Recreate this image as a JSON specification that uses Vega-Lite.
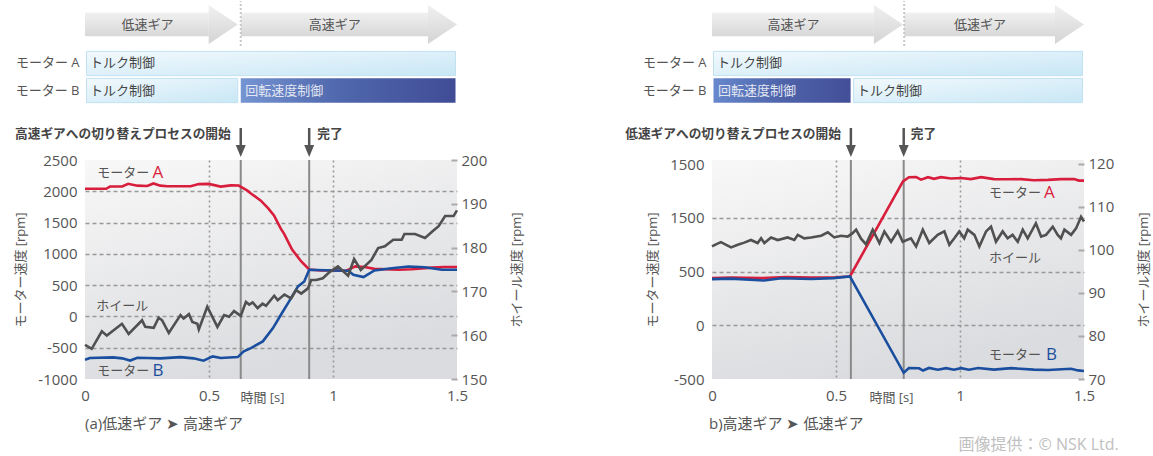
{
"$schema": "https://vega.github.io/schema/vega-lite/v6.json",
"padding": {"left": 14, "top": 0, "right": 0, "bottom": 3},
"background": "white",
"config": {"font": "Open Sans, Noto Sans CJK JP, sans-serif", "view": {"stroke": null}, "axis": {"labelOverlap": false}, "title": {"font": "Open Sans, Noto Sans CJK JP, sans-serif"}},
"title": {"text": "画像提供：© NSK Ltd.", "orient": "bottom", "anchor": "end", "fontSize": 16, "fontWeight": "normal", "color": "#c0c0c0", "offset": 5, "dx": -32},
"datasets": {
"gears": [
{"panel": "a", "gear": "低速ギア", "start": 0, "end": 0.616},
{"panel": "a", "gear": "高速ギア", "start": 0.628, "end": 1.5},
{"panel": "b", "gear": "高速ギア", "start": 0, "end": 0.77},
{"panel": "b", "gear": "低速ギア", "start": 0.775, "end": 1.5}
],
"control": [
{"panel": "a", "motor": "モーター A", "mode": "トルク制御", "start": 0, "end": 1.5},
{"panel": "a", "motor": "モーター B", "mode": "トルク制御", "start": 0, "end": 0.622},
{"panel": "a", "motor": "モーター B", "mode": "回転速度制御", "start": 0.622, "end": 1.5},
{"panel": "b", "motor": "モーター A", "mode": "トルク制御", "start": 0, "end": 1.5},
{"panel": "b", "motor": "モーター B", "mode": "回転速度制御", "start": 0, "end": 0.565},
{"panel": "b", "motor": "モーター B", "mode": "トルク制御", "start": 0.565, "end": 1.5}
],
"events": [
{"panel": "a", "t": 0.628, "label": "高速ギアへの切り替えプロセスの開始", "side": "left"},
{"panel": "a", "t": 0.904, "label": "完了", "side": "right"},
{"panel": "b", "t": 0.56, "label": "低速ギアへの切り替えプロセスの開始", "side": "left"},
{"panel": "b", "t": 0.773, "label": "完了", "side": "right"}
],
"labels": [
{"panel": "a", "kind": "name", "t": 0.049, "rpm": 2297, "text": "モーター", "series": "note"},
{"panel": "a", "kind": "letter", "t": 0.272, "rpm": 2297, "text": "A", "series": "A"},
{"panel": "a", "kind": "name", "t": 0.045, "rpm": 167, "text": "ホイール", "series": "note"},
{"panel": "a", "kind": "name", "t": 0.049, "rpm": -872, "text": "モーター", "series": "note"},
{"panel": "a", "kind": "letter", "t": 0.272, "rpm": -872, "text": "B", "series": "B"},
{"panel": "b", "kind": "name", "t": 1.117, "rpm": 1235, "text": "モーター", "series": "note"},
{"panel": "b", "kind": "letter", "t": 1.339, "rpm": 1235, "text": "A", "series": "A"},
{"panel": "b", "kind": "name", "t": 1.117, "rpm": 630, "text": "ホイール", "series": "note"},
{"panel": "b", "kind": "name", "t": 1.117, "rpm": -276, "text": "モーター", "series": "note"},
{"panel": "b", "kind": "letter", "t": 1.347, "rpm": -276, "text": "B", "series": "B"}
],
"a_motor": [
{"series": "A", "t": 0, "rpm": 2040}, {"series": "A", "t": 0.085, "rpm": 2040}, {"series": "A", "t": 0.101, "rpm": 2076}, {"series": "A", "t": 0.15, "rpm": 2076}, {"series": "A", "t": 0.174, "rpm": 2120}, {"series": "A", "t": 0.211, "rpm": 2090}, {"series": "A", "t": 0.251, "rpm": 2085}, {"series": "A", "t": 0.276, "rpm": 2125}, {"series": "A", "t": 0.304, "rpm": 2090}, {"series": "A", "t": 0.332, "rpm": 2080}, {"series": "A", "t": 0.426, "rpm": 2080}, {"series": "A", "t": 0.459, "rpm": 2115}, {"series": "A", "t": 0.499, "rpm": 2118}, {"series": "A", "t": 0.547, "rpm": 2075}, {"series": "A", "t": 0.588, "rpm": 2095}, {"series": "A", "t": 0.62, "rpm": 2092}, {"series": "A", "t": 0.655, "rpm": 2010}, {"series": "A", "t": 0.669, "rpm": 1965}, {"series": "A", "t": 0.709, "rpm": 1850}, {"series": "A", "t": 0.738, "rpm": 1730}, {"series": "A", "t": 0.762, "rpm": 1615}, {"series": "A", "t": 0.79, "rpm": 1400}, {"series": "A", "t": 0.803, "rpm": 1320}, {"series": "A", "t": 0.835, "rpm": 1068}, {"series": "A", "t": 0.872, "rpm": 879}, {"series": "A", "t": 0.904, "rpm": 750}, {"series": "A", "t": 0.95, "rpm": 735}, {"series": "A", "t": 1.005, "rpm": 735}, {"series": "A", "t": 1.054, "rpm": 730}, {"series": "A", "t": 1.09, "rpm": 800}, {"series": "A", "t": 1.128, "rpm": 790}, {"series": "A", "t": 1.167, "rpm": 760}, {"series": "A", "t": 1.265, "rpm": 745}, {"series": "A", "t": 1.317, "rpm": 755}, {"series": "A", "t": 1.398, "rpm": 780}, {"series": "A", "t": 1.45, "rpm": 790}, {"series": "A", "t": 1.5, "rpm": 790},
{"series": "B", "t": 0, "rpm": -692}, {"series": "B", "t": 0.02, "rpm": -665}, {"series": "B", "t": 0.113, "rpm": -655}, {"series": "B", "t": 0.15, "rpm": -670}, {"series": "B", "t": 0.182, "rpm": -705}, {"series": "B", "t": 0.211, "rpm": -660}, {"series": "B", "t": 0.251, "rpm": -665}, {"series": "B", "t": 0.304, "rpm": -670}, {"series": "B", "t": 0.385, "rpm": -650}, {"series": "B", "t": 0.438, "rpm": -670}, {"series": "B", "t": 0.478, "rpm": -708}, {"series": "B", "t": 0.515, "rpm": -639}, {"series": "B", "t": 0.547, "rpm": -665}, {"series": "B", "t": 0.616, "rpm": -650}, {"series": "B", "t": 0.64, "rpm": -559}, {"series": "B", "t": 0.669, "rpm": -506}, {"series": "B", "t": 0.717, "rpm": -399}, {"series": "B", "t": 0.758, "rpm": -186}, {"series": "B", "t": 0.79, "rpm": 27}, {"series": "B", "t": 0.823, "rpm": 240}, {"series": "B", "t": 0.859, "rpm": 479}, {"series": "B", "t": 0.884, "rpm": 559}, {"series": "B", "t": 0.904, "rpm": 746}, {"series": "B", "t": 1.005, "rpm": 735}, {"series": "B", "t": 1.062, "rpm": 729}, {"series": "B", "t": 1.082, "rpm": 666}, {"series": "B", "t": 1.123, "rpm": 628}, {"series": "B", "t": 1.167, "rpm": 735}, {"series": "B", "t": 1.236, "rpm": 770}, {"series": "B", "t": 1.305, "rpm": 799}, {"series": "B", "t": 1.37, "rpm": 785}, {"series": "B", "t": 1.439, "rpm": 746}, {"series": "B", "t": 1.5, "rpm": 746}
],
"a_wheel": [
{"t": 0, "rpm": 157.8}, {"t": 0.027, "rpm": 156.9}, {"t": 0.068, "rpm": 160.9}, {"t": 0.088, "rpm": 159.9}, {"t": 0.149, "rpm": 162.6}, {"t": 0.176, "rpm": 160.3}, {"t": 0.23, "rpm": 163.4}, {"t": 0.243, "rpm": 161.9}, {"t": 0.277, "rpm": 161.7}, {"t": 0.297, "rpm": 164.0}, {"t": 0.311, "rpm": 163.4}, {"t": 0.338, "rpm": 160.5}, {"t": 0.385, "rpm": 164.6}, {"t": 0.398, "rpm": 163.8}, {"t": 0.419, "rpm": 164.8}, {"t": 0.433, "rpm": 163.0}, {"t": 0.453, "rpm": 162.6}, {"t": 0.459, "rpm": 161.3}, {"t": 0.493, "rpm": 166.5}, {"t": 0.534, "rpm": 161.9}, {"t": 0.561, "rpm": 164.6}, {"t": 0.581, "rpm": 164.2}, {"t": 0.601, "rpm": 165.5}, {"t": 0.628, "rpm": 164.4}, {"t": 0.649, "rpm": 167.6}, {"t": 0.662, "rpm": 167.0}, {"t": 0.676, "rpm": 167.5}, {"t": 0.696, "rpm": 166.2}, {"t": 0.716, "rpm": 167.2}, {"t": 0.73, "rpm": 166.7}, {"t": 0.763, "rpm": 169.0}, {"t": 0.777, "rpm": 168.0}, {"t": 0.804, "rpm": 169.3}, {"t": 0.831, "rpm": 168.4}, {"t": 0.851, "rpm": 170.3}, {"t": 0.872, "rpm": 169.5}, {"t": 0.899, "rpm": 170.7}, {"t": 0.912, "rpm": 172.6}, {"t": 0.932, "rpm": 172.6}, {"t": 0.959, "rpm": 173.0}, {"t": 0.986, "rpm": 174.4}, {"t": 1.02, "rpm": 175.7}, {"t": 1.061, "rpm": 173.6}, {"t": 1.085, "rpm": 177.4}, {"t": 1.112, "rpm": 174.9}, {"t": 1.155, "rpm": 177.2}, {"t": 1.182, "rpm": 179.9}, {"t": 1.209, "rpm": 180.3}, {"t": 1.243, "rpm": 181.8}, {"t": 1.277, "rpm": 181.8}, {"t": 1.288, "rpm": 183.1}, {"t": 1.331, "rpm": 183.1}, {"t": 1.371, "rpm": 182.2}, {"t": 1.405, "rpm": 183.9}, {"t": 1.426, "rpm": 184.9}, {"t": 1.452, "rpm": 187.2}, {"t": 1.486, "rpm": 187.2}, {"t": 1.5, "rpm": 188.5}
],
"b_motor": [
{"series": "A", "t": 0, "rpm": 440}, {"series": "A", "t": 0.08, "rpm": 446}, {"series": "A", "t": 0.2, "rpm": 440}, {"series": "A", "t": 0.3, "rpm": 450}, {"series": "A", "t": 0.4, "rpm": 445}, {"series": "A", "t": 0.5, "rpm": 448}, {"series": "A", "t": 0.556, "rpm": 455}, {"series": "A", "t": 0.77, "rpm": 1341}, {"series": "A", "t": 0.794, "rpm": 1379}, {"series": "A", "t": 0.823, "rpm": 1380}, {"series": "A", "t": 0.843, "rpm": 1357}, {"series": "A", "t": 0.871, "rpm": 1380}, {"series": "A", "t": 0.895, "rpm": 1365}, {"series": "A", "t": 0.923, "rpm": 1380}, {"series": "A", "t": 0.964, "rpm": 1368}, {"series": "A", "t": 1.004, "rpm": 1372}, {"series": "A", "t": 1.044, "rpm": 1362}, {"series": "A", "t": 1.085, "rpm": 1380}, {"series": "A", "t": 1.137, "rpm": 1362}, {"series": "A", "t": 1.194, "rpm": 1360}, {"series": "A", "t": 1.246, "rpm": 1362}, {"series": "A", "t": 1.298, "rpm": 1352}, {"series": "A", "t": 1.355, "rpm": 1355}, {"series": "A", "t": 1.407, "rpm": 1362}, {"series": "A", "t": 1.46, "rpm": 1362}, {"series": "A", "t": 1.48, "rpm": 1348}, {"series": "A", "t": 1.5, "rpm": 1348},
{"series": "B", "t": 0, "rpm": 430}, {"series": "B", "t": 0.076, "rpm": 435}, {"series": "B", "t": 0.21, "rpm": 418}, {"series": "B", "t": 0.28, "rpm": 438}, {"series": "B", "t": 0.4, "rpm": 432}, {"series": "B", "t": 0.49, "rpm": 440}, {"series": "B", "t": 0.556, "rpm": 455}, {"series": "B", "t": 0.773, "rpm": -442}, {"series": "B", "t": 0.794, "rpm": -397}, {"series": "B", "t": 0.835, "rpm": -400}, {"series": "B", "t": 0.851, "rpm": -421}, {"series": "B", "t": 0.875, "rpm": -397}, {"series": "B", "t": 0.911, "rpm": -413}, {"series": "B", "t": 0.944, "rpm": -399}, {"series": "B", "t": 0.976, "rpm": -413}, {"series": "B", "t": 1.004, "rpm": -399}, {"series": "B", "t": 1.036, "rpm": -413}, {"series": "B", "t": 1.073, "rpm": -397}, {"series": "B", "t": 1.137, "rpm": -413}, {"series": "B", "t": 1.206, "rpm": -399}, {"series": "B", "t": 1.298, "rpm": -413}, {"series": "B", "t": 1.355, "rpm": -416}, {"series": "B", "t": 1.448, "rpm": -405}, {"series": "B", "t": 1.476, "rpm": -420}, {"series": "B", "t": 1.5, "rpm": -425}
],
"b_wheel": [
{"t": 0, "rpm": 100.8}, {"t": 0.016, "rpm": 101.3}, {"t": 0.036, "rpm": 101.8}, {"t": 0.063, "rpm": 101.0}, {"t": 0.077, "rpm": 100.6}, {"t": 0.104, "rpm": 101.2}, {"t": 0.13, "rpm": 101.7}, {"t": 0.157, "rpm": 102.3}, {"t": 0.184, "rpm": 101.6}, {"t": 0.198, "rpm": 102.7}, {"t": 0.211, "rpm": 101.6}, {"t": 0.238, "rpm": 102.9}, {"t": 0.265, "rpm": 102.3}, {"t": 0.305, "rpm": 102.9}, {"t": 0.332, "rpm": 102.3}, {"t": 0.346, "rpm": 103.5}, {"t": 0.372, "rpm": 102.7}, {"t": 0.399, "rpm": 102.9}, {"t": 0.44, "rpm": 103.3}, {"t": 0.467, "rpm": 104.1}, {"t": 0.493, "rpm": 102.9}, {"t": 0.52, "rpm": 103.3}, {"t": 0.547, "rpm": 103.1}, {"t": 0.567, "rpm": 103.9}, {"t": 0.581, "rpm": 104.7}, {"t": 0.601, "rpm": 102.6}, {"t": 0.621, "rpm": 101.3}, {"t": 0.648, "rpm": 104.7}, {"t": 0.675, "rpm": 101.6}, {"t": 0.695, "rpm": 104.3}, {"t": 0.722, "rpm": 101.9}, {"t": 0.749, "rpm": 104.4}, {"t": 0.769, "rpm": 101.9}, {"t": 0.802, "rpm": 102.7}, {"t": 0.823, "rpm": 100.8}, {"t": 0.85, "rpm": 104.7}, {"t": 0.876, "rpm": 101.6}, {"t": 0.91, "rpm": 103.5}, {"t": 0.937, "rpm": 104.3}, {"t": 0.957, "rpm": 101.2}, {"t": 0.977, "rpm": 102.7}, {"t": 0.997, "rpm": 104.3}, {"t": 1.017, "rpm": 102.7}, {"t": 1.031, "rpm": 104.7}, {"t": 1.058, "rpm": 103.5}, {"t": 1.078, "rpm": 100.8}, {"t": 1.105, "rpm": 104.3}, {"t": 1.125, "rpm": 105.4}, {"t": 1.145, "rpm": 101.9}, {"t": 1.172, "rpm": 104.3}, {"t": 1.192, "rpm": 102.7}, {"t": 1.212, "rpm": 103.5}, {"t": 1.233, "rpm": 101.9}, {"t": 1.253, "rpm": 104.7}, {"t": 1.273, "rpm": 102.7}, {"t": 1.306, "rpm": 106.2}, {"t": 1.327, "rpm": 103.1}, {"t": 1.347, "rpm": 103.5}, {"t": 1.374, "rpm": 105.4}, {"t": 1.394, "rpm": 103.5}, {"t": 1.407, "rpm": 102.7}, {"t": 1.421, "rpm": 104.7}, {"t": 1.448, "rpm": 103.5}, {"t": 1.468, "rpm": 105.0}, {"t": 1.488, "rpm": 107.7}, {"t": 1.5, "rpm": 106.6}
]
},
"spacing": 627,
"bounds": "flush",
"resolve": {"scale": {"x": "independent", "y": "independent", "color": "independent"}},
"hconcat": [
{
"spacing": 0,
"bounds": "flush",
"resolve": {"scale": {"x": "independent", "y": "independent", "color": "independent"}},
"vconcat": [
{
"width": 372, "height": 47,
"data": {"name": "gears"},
"transform": [{"filter": "datum.panel == 'a'"}, {"calculate": "(datum.start + datum.end) / 2", "as": "mid"}],
"layer": [
{"mark": {"type": "rect", "x2Offset": -29, "fill": {"gradient": "linear", "x1": 0, "y1": 0, "x2": 0, "y2": 1, "stops": [{"offset": 0, "color": "#f0f0f0"}, {"offset": 1, "color": "#d8d8d8"}]}},
 "encoding": {"x": {"field": "start", "type": "quantitative", "scale": {"domain": [0, 1.5]}, "axis": null}, "x2": {"field": "end"}, "y": {"datum": 0.25, "type": "quantitative", "scale": {"domain": [0, 1]}, "axis": null}, "y2": {"datum": 0.75}}},
{"mark": {"type": "point", "shape": "M-1.49,-1L0,0L-1.49,1Z", "size": 1521, "filled": true, "opacity": 1, "strokeWidth": 0, "fill": {"gradient": "linear", "x1": 0, "y1": 0, "x2": 0, "y2": 1, "stops": [{"offset": 0, "color": "#f0f0f0"}, {"offset": 1, "color": "#d4d4d4"}]}},
 "encoding": {"x": {"field": "end", "type": "quantitative", "scale": {"domain": [0, 1.5]}}, "y": {"datum": 0.5, "type": "quantitative", "scale": {"domain": [0, 1]}}}},
{"mark": {"type": "text", "dx": -14, "fontSize": 13, "color": "#555"},
 "encoding": {"x": {"field": "mid", "type": "quantitative", "scale": {"domain": [0, 1.5]}}, "y": {"datum": 0.5, "type": "quantitative", "scale": {"domain": [0, 1]}}, "text": {"field": "gear"}}},
{"transform": [{"filter": "datum.start > 0"}], "mark": {"type": "rule", "color": "#c8c8c8", "strokeWidth": 2, "strokeDash": [2, 2]},
 "encoding": {"x": {"field": "start", "type": "quantitative", "scale": {"domain": [0, 1.5]}}, "y": {"datum": 0.04, "type": "quantitative", "scale": {"domain": [0, 1]}}, "y2": {"datum": 1}}}
]
},
{
"width": 372, "height": 58,
"data": {"name": "control"},
"transform": [{"filter": "datum.panel == 'a'"}],
"encoding": {
"x": {"field": "start", "type": "quantitative", "scale": {"domain": [0, 1.5]}, "axis": null},
"y": {"field": "motor", "type": "nominal", "scale": {"domain": ["モーター A", "モーター B"], "paddingInner": 0.1, "paddingOuter": 0.124}, "axis": {"title": null, "domain": false, "ticks": false, "labelPadding": 6, "labelFontSize": 13, "labelColor": "#555", "labelFontWeight": "normal"}}
},
"layer": [
{"transform": [{"filter": "datum.mode == 'トルク制御'"}], "mark": {"type": "rect", "xOffset": 1.5, "x2Offset": -1.5, "stroke": "#c2e1f0", "strokeWidth": 1, "fill": {"gradient": "linear", "x1": 0, "y1": 0, "x2": 1, "y2": 1, "stops": [{"offset": 0, "color": "#f2f9fd"}, {"offset": 1, "color": "#c8e7f5"}]}}, "encoding": {"x2": {"field": "end"}}},
{"transform": [{"filter": "datum.mode == '回転速度制御'"}], "mark": {"type": "rect", "xOffset": 1.5, "x2Offset": -1.5, "fill": {"gradient": "linear", "x1": 0, "y1": 0, "x2": 1, "y2": 0, "stops": [{"offset": 0, "color": "#7594d2"}, {"offset": 0.45, "color": "#5068ad"}, {"offset": 1, "color": "#404c96"}]}}, "encoding": {"x2": {"field": "end"}}},
{"transform": [{"filter": "datum.mode == 'トルク制御'"}], "mark": {"type": "text", "align": "left", "dx": 5, "fontSize": 13, "color": "#444"}, "encoding": {"text": {"field": "mode"}}},
{"transform": [{"filter": "datum.mode == '回転速度制御'"}], "mark": {"type": "text", "align": "left", "dx": 6, "fontSize": 13, "color": "#e2e6f2"}, "encoding": {"text": {"field": "mode"}}}
]
},
{
"width": 372, "height": 54,
"data": {"name": "events"},
"transform": [{"filter": "datum.panel == 'a'"}],
"encoding": {"x": {"field": "t", "type": "quantitative", "scale": {"domain": [0, 1.5]}, "axis": null}},
"layer": [
{"mark": {"type": "rule", "color": "#555", "strokeWidth": 2.5}, "encoding": {"y": {"datum": 0.593, "type": "quantitative", "scale": {"domain": [0, 1]}, "axis": null}, "y2": {"datum": 0.2}}},
{"mark": {"type": "point", "shape": "M-0.83,-1L0.83,-1L0,1Z", "size": 144, "filled": true, "color": "#555", "opacity": 1, "strokeWidth": 0}, "encoding": {"y": {"datum": 0.167, "type": "quantitative", "scale": {"domain": [0, 1]}}}},
{"transform": [{"filter": "datum.side == 'left'"}], "mark": {"type": "text", "align": "right", "dx": -10, "fontSize": 12.7, "fontWeight": "bold", "color": "#444"}, "encoding": {"y": {"datum": 0.48, "type": "quantitative", "scale": {"domain": [0, 1]}}, "text": {"field": "label"}}},
{"transform": [{"filter": "datum.side == 'right'"}], "mark": {"type": "text", "align": "left", "dx": 8, "fontSize": 12.7, "fontWeight": "bold", "color": "#444"}, "encoding": {"y": {"datum": 0.48, "type": "quantitative", "scale": {"domain": [0, 1]}}, "text": {"field": "label"}}}
]
},
{
"width": 372, "height": 219,
"view": {"stroke": null, "fill": {"gradient": "linear", "x1": 0, "y1": 0, "x2": 0.35, "y2": 1, "stops": [{"offset": 0, "color": "#f8f8f8"}, {"offset": 1, "color": "#dbdcdf"}]}},
"title": {"text": "(a)低速ギア ➤ 高速ギア", "orient": "bottom", "anchor": "start", "frame": "group", "fontSize": 15, "fontWeight": "normal", "color": "#555", "offset": 13},
"layer": [
{"layer": [
{"data": {"name": "events"}, "transform": [{"filter": "datum.panel == 'a'"}], "mark": {"type": "rule", "color": "#8a8a8a", "strokeWidth": 2}, "encoding": {"x": {"field": "t", "type": "quantitative", "scale": {"domain": [0, 1.5]}}}},
{"data": {"name": "a_motor"}, "mark": {"type": "line", "strokeWidth": 2.6},
 "encoding": {
 "x": {"field": "t", "type": "quantitative", "scale": {"domain": [0, 1.5]}, "axis": {"values": [0, 0.5, 1, 1.5], "format": "~g", "domain": false, "ticks": false, "labelPadding": 9, "labelFontSize": 15, "labelColor": "#555", "labelFlush": false, "labelOverlap": false, "title": "時間 [s]", "titleX": 177, "titleY": 18, "titleAlign": "center", "titleBaseline": "middle", "titleFontSize": 13, "titleFontWeight": "normal", "titleColor": "#555", "grid": true, "gridDash": [2, 3], "gridColor": "#999", "gridWidth": 1.6, "gridOpacity": {"condition": {"test": "datum.value == 0 || datum.value == 1.5", "value": 0}, "value": 1}}},
 "y": {"field": "rpm", "type": "quantitative", "scale": {"domain": [-1000, 2500]}, "axis": {"orient": "left", "tickCount": 8, "labelExpr": "datum.value + ''", "labelOverlap": false, "labelBound": false, "domain": false, "ticks": false, "labelPadding": 8, "labelFontSize": 15, "labelColor": "#555", "title": "モーター速度 [rpm]", "titleFontSize": 13, "titleFontWeight": "normal", "titleColor": "#555", "titlePadding": 10, "grid": true, "gridDash": [4, 3], "gridColor": "#999", "gridWidth": 1.3, "gridOpacity": {"condition": {"test": "datum.value == 2500 || datum.value == -1000", "value": 0}, "value": 1}}},
 "color": {"field": "series", "type": "nominal", "scale": {"domain": ["A", "B", "note"], "range": ["#d81e3c", "#1a4e9e", "#555555"]}, "legend": null}
 }},
{"data": {"name": "labels"}, "transform": [{"filter": "datum.panel == 'a' && datum.kind == 'name'"}], "mark": {"type": "text", "align": "left", "baseline": "middle", "fontSize": 13},
 "encoding": {"x": {"field": "t", "type": "quantitative", "scale": {"domain": [0, 1.5]}}, "y": {"field": "rpm", "type": "quantitative", "scale": {"domain": [-1000, 2500]}}, "text": {"field": "text"}, "color": {"field": "series", "type": "nominal", "legend": null}}},
{"data": {"name": "labels"}, "transform": [{"filter": "datum.panel == 'a' && datum.kind == 'letter'"}], "mark": {"type": "text", "align": "left", "baseline": "middle", "fontSize": 17},
 "encoding": {"x": {"field": "t", "type": "quantitative", "scale": {"domain": [0, 1.5]}}, "y": {"field": "rpm", "type": "quantitative", "scale": {"domain": [-1000, 2500]}}, "text": {"field": "text"}, "color": {"field": "series", "type": "nominal", "legend": null}}}
]},
{"data": {"name": "a_wheel"}, "mark": {"type": "line", "color": "#505050", "strokeWidth": 2.6},
 "encoding": {"x": {"field": "t", "type": "quantitative", "scale": {"domain": [0, 1.5]}},
 "y": {"field": "rpm", "type": "quantitative", "scale": {"domain": [150, 200]}, "axis": {"orient": "right", "values": [150, 160, 170, 180, 190, 200], "labelOverlap": false, "domain": false, "ticks": true, "tickSize": -6, "tickColor": "#aaa", "tickWidth": 2, "labelPadding": 10, "labelFontSize": 15, "labelColor": "#555", "title": "ホイール速度 [rpm]", "titleAngle": 270, "titleBaseline": "top", "titleFontSize": 13, "titleFontWeight": "normal", "titleColor": "#555", "titlePadding": 24, "grid": false}}}}
],
"resolve": {"scale": {"y": "independent"}}
}
]
},
{
"spacing": 0,
"bounds": "flush",
"resolve": {"scale": {"x": "independent", "y": "independent", "color": "independent"}},
"vconcat": [
{
"width": 372, "height": 47,
"data": {"name": "gears"},
"transform": [{"filter": "datum.panel == 'b'"}, {"calculate": "(datum.start + datum.end) / 2", "as": "mid"}],
"layer": [
{"mark": {"type": "rect", "x2Offset": -29, "fill": {"gradient": "linear", "x1": 0, "y1": 0, "x2": 0, "y2": 1, "stops": [{"offset": 0, "color": "#f0f0f0"}, {"offset": 1, "color": "#d8d8d8"}]}},
 "encoding": {"x": {"field": "start", "type": "quantitative", "scale": {"domain": [0, 1.5]}, "axis": null}, "x2": {"field": "end"}, "y": {"datum": 0.25, "type": "quantitative", "scale": {"domain": [0, 1]}, "axis": null}, "y2": {"datum": 0.75}}},
{"mark": {"type": "point", "shape": "M-1.49,-1L0,0L-1.49,1Z", "size": 1521, "filled": true, "opacity": 1, "strokeWidth": 0, "fill": {"gradient": "linear", "x1": 0, "y1": 0, "x2": 0, "y2": 1, "stops": [{"offset": 0, "color": "#f0f0f0"}, {"offset": 1, "color": "#d4d4d4"}]}},
 "encoding": {"x": {"field": "end", "type": "quantitative", "scale": {"domain": [0, 1.5]}}, "y": {"datum": 0.5, "type": "quantitative", "scale": {"domain": [0, 1]}}}},
{"mark": {"type": "text", "dx": -14, "fontSize": 13, "color": "#555"},
 "encoding": {"x": {"field": "mid", "type": "quantitative", "scale": {"domain": [0, 1.5]}}, "y": {"datum": 0.5, "type": "quantitative", "scale": {"domain": [0, 1]}}, "text": {"field": "gear"}}},
{"transform": [{"filter": "datum.start > 0"}], "mark": {"type": "rule", "color": "#c8c8c8", "strokeWidth": 2, "strokeDash": [2, 2]},
 "encoding": {"x": {"field": "start", "type": "quantitative", "scale": {"domain": [0, 1.5]}}, "y": {"datum": 0.04, "type": "quantitative", "scale": {"domain": [0, 1]}}, "y2": {"datum": 1}}}
]
},
{
"width": 372, "height": 58,
"data": {"name": "control"},
"transform": [{"filter": "datum.panel == 'b'"}],
"encoding": {
"x": {"field": "start", "type": "quantitative", "scale": {"domain": [0, 1.5]}, "axis": null},
"y": {"field": "motor", "type": "nominal", "scale": {"domain": ["モーター A", "モーター B"], "paddingInner": 0.1, "paddingOuter": 0.124}, "axis": {"title": null, "domain": false, "ticks": false, "labelPadding": 6, "labelFontSize": 13, "labelColor": "#555", "labelFontWeight": "normal"}}
},
"layer": [
{"transform": [{"filter": "datum.mode == 'トルク制御'"}], "mark": {"type": "rect", "xOffset": 1.5, "x2Offset": -1.5, "stroke": "#c2e1f0", "strokeWidth": 1, "fill": {"gradient": "linear", "x1": 0, "y1": 0, "x2": 1, "y2": 1, "stops": [{"offset": 0, "color": "#f2f9fd"}, {"offset": 1, "color": "#c8e7f5"}]}}, "encoding": {"x2": {"field": "end"}}},
{"transform": [{"filter": "datum.mode == '回転速度制御'"}], "mark": {"type": "rect", "xOffset": 1.5, "x2Offset": -1.5, "fill": {"gradient": "linear", "x1": 0, "y1": 0, "x2": 1, "y2": 0, "stops": [{"offset": 0, "color": "#6788cc"}, {"offset": 0.5, "color": "#4e63aa"}, {"offset": 1, "color": "#434f98"}]}}, "encoding": {"x2": {"field": "end"}}},
{"transform": [{"filter": "datum.mode == 'トルク制御'"}], "mark": {"type": "text", "align": "left", "dx": 5, "fontSize": 13, "color": "#444"}, "encoding": {"text": {"field": "mode"}}},
{"transform": [{"filter": "datum.mode == '回転速度制御'"}], "mark": {"type": "text", "align": "left", "dx": 6, "fontSize": 13, "color": "#e2e6f2"}, "encoding": {"text": {"field": "mode"}}}
]
},
{
"width": 372, "height": 54,
"data": {"name": "events"},
"transform": [{"filter": "datum.panel == 'b'"}],
"encoding": {"x": {"field": "t", "type": "quantitative", "scale": {"domain": [0, 1.5]}, "axis": null}},
"layer": [
{"mark": {"type": "rule", "color": "#555", "strokeWidth": 2.5}, "encoding": {"y": {"datum": 0.593, "type": "quantitative", "scale": {"domain": [0, 1]}, "axis": null}, "y2": {"datum": 0.2}}},
{"mark": {"type": "point", "shape": "M-0.83,-1L0.83,-1L0,1Z", "size": 144, "filled": true, "color": "#555", "opacity": 1, "strokeWidth": 0}, "encoding": {"y": {"datum": 0.167, "type": "quantitative", "scale": {"domain": [0, 1]}}}},
{"transform": [{"filter": "datum.side == 'left'"}], "mark": {"type": "text", "align": "right", "dx": -10, "fontSize": 12.7, "fontWeight": "bold", "color": "#444"}, "encoding": {"y": {"datum": 0.48, "type": "quantitative", "scale": {"domain": [0, 1]}}, "text": {"field": "label"}}},
{"transform": [{"filter": "datum.side == 'right'"}], "mark": {"type": "text", "align": "left", "dx": 7, "fontSize": 12.7, "fontWeight": "bold", "color": "#444"}, "encoding": {"y": {"datum": 0.48, "type": "quantitative", "scale": {"domain": [0, 1]}}, "text": {"field": "label"}}}
]
},
{
"width": 372, "height": 219,
"view": {"stroke": null, "fill": {"gradient": "linear", "x1": 0, "y1": 0, "x2": 0.35, "y2": 1, "stops": [{"offset": 0, "color": "#f8f8f8"}, {"offset": 1, "color": "#dbdcdf"}]}},
"title": {"text": "b)高速ギア ➤ 低速ギア", "orient": "bottom", "anchor": "start", "frame": "group", "fontSize": 15, "fontWeight": "normal", "color": "#555", "offset": 13, "dx": -3},
"layer": [
{"layer": [
{"data": {"name": "events"}, "transform": [{"filter": "datum.panel == 'b'"}], "mark": {"type": "rule", "color": "#8a8a8a", "strokeWidth": 2}, "encoding": {"x": {"field": "t", "type": "quantitative", "scale": {"domain": [0, 1.5]}}}},
{"data": {"name": "b_motor"}, "mark": {"type": "line", "strokeWidth": 2.6},
 "encoding": {
 "x": {"field": "t", "type": "quantitative", "scale": {"domain": [0, 1.5]}, "axis": {"values": [0, 0.5, 1, 1.5], "format": "~g", "domain": false, "ticks": false, "labelPadding": 9, "labelFontSize": 15, "labelColor": "#555", "labelFlush": false, "labelOverlap": false, "title": "時間 [s]", "titleX": 179, "titleY": 18, "titleAlign": "center", "titleBaseline": "middle", "titleFontSize": 13, "titleFontWeight": "normal", "titleColor": "#555", "grid": true, "gridDash": [2, 3], "gridColor": "#999", "gridWidth": 1.6, "gridOpacity": {"condition": {"test": "datum.value == 0 || datum.value == 1.5", "value": 0}, "value": 1}}},
 "y": {"field": "rpm", "type": "quantitative", "scale": {"domain": [-500, 1540]}, "axis": {"orient": "left", "values": [-500, 0, 500, 1000, 1500], "labelExpr": "datum.value == 1000 ? '1500' : datum.value + ''", "labelOverlap": false, "domain": false, "ticks": false, "labelPadding": 8, "labelFontSize": 15, "labelColor": "#555", "title": "モーター速度 [rpm]", "titleFontSize": 13, "titleFontWeight": "normal", "titleColor": "#555", "titlePadding": 10, "grid": true, "gridDash": [4, 3], "gridColor": "#999", "gridWidth": 1.3, "gridOpacity": {"condition": {"test": "datum.value == 1500 || datum.value == -500", "value": 0}, "value": 1}}},
 "color": {"field": "series", "type": "nominal", "scale": {"domain": ["A", "B", "note"], "range": ["#d81e3c", "#1a4e9e", "#555555"]}, "legend": null}
 }},
{"data": {"name": "labels"}, "transform": [{"filter": "datum.panel == 'b' && datum.kind == 'name'"}], "mark": {"type": "text", "align": "left", "baseline": "middle", "fontSize": 13},
 "encoding": {"x": {"field": "t", "type": "quantitative", "scale": {"domain": [0, 1.5]}}, "y": {"field": "rpm", "type": "quantitative", "scale": {"domain": [-500, 1540]}}, "text": {"field": "text"}, "color": {"field": "series", "type": "nominal", "legend": null}}},
{"data": {"name": "labels"}, "transform": [{"filter": "datum.panel == 'b' && datum.kind == 'letter'"}], "mark": {"type": "text", "align": "left", "baseline": "middle", "fontSize": 17},
 "encoding": {"x": {"field": "t", "type": "quantitative", "scale": {"domain": [0, 1.5]}}, "y": {"field": "rpm", "type": "quantitative", "scale": {"domain": [-500, 1540]}}, "text": {"field": "text"}, "color": {"field": "series", "type": "nominal", "legend": null}}}
]},
{"data": {"name": "b_wheel"}, "mark": {"type": "line", "color": "#505050", "strokeWidth": 2.6},
 "encoding": {"x": {"field": "t", "type": "quantitative", "scale": {"domain": [0, 1.5]}},
 "y": {"field": "rpm", "type": "quantitative", "scale": {"domain": [70, 120.9]}, "axis": {"orient": "right", "values": [70, 80, 90, 100, 110, 120], "labelOverlap": false, "domain": false, "ticks": true, "tickSize": -6, "tickColor": "#aaa", "tickWidth": 2, "labelPadding": 10, "labelFontSize": 15, "labelColor": "#555", "title": "ホイール速度 [rpm]", "titleAngle": 270, "titleBaseline": "top", "titleFontSize": 13, "titleFontWeight": "normal", "titleColor": "#555", "titlePadding": 24, "grid": false}}}}
],
"resolve": {"scale": {"y": "independent"}}
}
]
}
]
}
